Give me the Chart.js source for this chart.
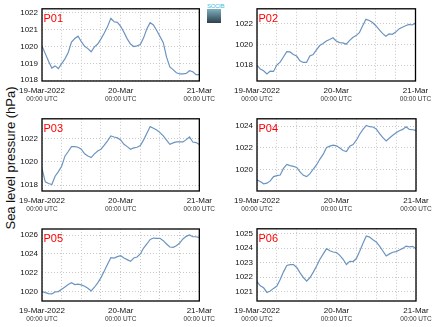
<!DOCTYPE html>
<html>
<head>
<meta charset="utf-8">
<script src="https://cdn.jsdelivr.net/npm/chart.js@4"></script>
<style>
  body { margin: 0; background: #fff; }
  #wrap { position: relative; width: 434px; height: 327px; overflow: hidden; font-family: "Liberation Sans", Arial, sans-serif; }
  canvas { position: absolute; }
  #ylabel { position: absolute; left: 10px; top: 158px; transform: translate(-50%, -50%) rotate(-90deg); white-space: nowrap; font-size: 13px; color: #111; }
  #logo { position: absolute; left: 207px; top: 3px; width: 14px; }
  #logo .t { font-size: 6px; line-height: 6px; color: #3cc0d8; letter-spacing: -0.3px; }
  #logo .b { height: 14px; background: linear-gradient(#7eb0bf, #2c3f4c); }
</style>
</head>
<body>
<div id="wrap">
  <div id="ylabel">Sea level pressure (hPa)</div>
  <div id="logo"><div class="t">SOCIB</div><div class="b"></div></div>
</div>
<script>
// hours since 19-Mar-2022 00:00 UTC
const hours = [0,1,2,3,4,5,6,7,8,9,10,11,12,13,14,15,16,17,18,19,20,21,22,23,24,
               25,26,27,28,29,30,31,32,33,34,35,36,37,38,39,40,41,42,43,44,45,46,47,48];
const xTicks = [0, 6, 12, 18, 24, 30, 36, 42, 48];
const xLabels = {0: '19-Mar-2022', 24: '20-Mar', 48: '21-Mar'};

const p01 = [1020.04,1019.58,1019.13,1018.72,1018.85,1018.69,1018.98,1019.27,1019.65,1020.27,
             1020.48,1020.62,1020.29,1020.02,1019.88,1019.69,1019.98,1020.15,1020.46,1020.81,
             1021.19,1021.68,1021.48,1021.44,1021.21,1020.85,1020.46,1020.15,1020.0,1020.04,
             1020.12,1020.52,1021.06,1021.42,1021.29,1020.96,1020.6,1020.23,1019.37,1018.79,
             1018.63,1018.44,1018.37,1018.38,1018.4,1018.56,1018.5,1018.33,1018.33];
const p02 = [1018.0,1017.6,1017.44,1017.13,1017.41,1017.38,1018.0,1018.28,1018.78,1019.3,
             1019.27,1019.02,1018.87,1018.4,1018.25,1018.25,1018.87,1019.02,1019.46,1019.89,
             1020.08,1020.33,1020.48,1020.64,1020.33,1020.17,1020.14,1020.02,1020.36,1020.67,
             1020.85,1021.13,1021.81,1022.43,1022.31,1022.12,1021.81,1021.44,1021.07,1020.79,
             1021.01,1020.98,1021.19,1021.5,1021.66,1021.81,1021.94,1021.88,1022.06];
const p03 = [1019.43,1018.29,1018.14,1018.06,1018.77,1019.17,1019.63,1020.49,1020.89,1021.31,
             1021.31,1021.26,1021.09,1020.69,1020.51,1020.37,1020.69,1020.94,1021.09,1021.43,
             1021.8,1022.23,1022.14,1022.06,1021.89,1021.51,1021.31,1021.09,1021.2,1021.26,
             1021.4,1021.89,1022.46,1023.03,1022.89,1022.74,1022.51,1022.23,1021.86,1021.51,
             1021.63,1021.71,1021.71,1021.71,1021.91,1022.14,1021.71,1021.66,1021.49];
const p04 = [1019.02,1018.87,1018.66,1018.72,1018.93,1019.33,1019.42,1019.48,1020.09,1020.46,
             1020.34,1020.27,1020.18,1019.76,1019.45,1019.33,1019.6,1020.03,1020.43,1020.95,
             1021.4,1022.02,1022.14,1022.23,1022.17,1021.98,1021.74,1021.65,1022.14,1022.29,
             1022.69,1023.24,1023.69,1024.06,1023.94,1023.91,1023.73,1023.3,1022.93,1022.63,
             1022.9,1023.15,1023.39,1023.57,1023.69,1023.94,1023.69,1023.66,1023.6];
const p05 = [1020.0,1019.89,1019.79,1019.75,1019.96,1020.0,1020.25,1020.49,1020.74,1020.95,
             1020.74,1020.78,1020.71,1020.56,1020.35,1020.07,1020.46,1020.92,1021.48,1022.19,
             1022.89,1023.6,1023.56,1023.71,1023.81,1023.56,1023.39,1023.21,1023.56,1023.67,
             1023.99,1024.62,1025.05,1025.54,1025.68,1025.65,1025.65,1025.4,1025.05,1024.73,
             1024.69,1024.87,1025.15,1025.58,1025.86,1026.0,1025.82,1025.82,1025.72];
const p06 = [1021.69,1021.41,1021.27,1020.95,1021.05,1021.23,1021.39,1021.85,1022.37,1022.81,
             1022.87,1022.87,1022.67,1022.3,1021.98,1021.73,1021.98,1022.35,1022.78,1023.24,
             1023.61,1023.97,1023.83,1023.74,1023.7,1023.51,1023.24,1022.87,1023.1,1023.08,
             1023.29,1023.79,1024.34,1024.85,1024.77,1024.59,1024.43,1024.15,1023.81,1023.47,
             1023.61,1023.72,1023.77,1023.88,1023.99,1024.15,1024.09,1024.13,1023.97];

const yTicks01 = [1018, 1019, 1020, 1021, 1022];
const yTicks02 = [1018, 1020, 1022];
const yTicks03 = [1018, 1020, 1022];
const yTicks04 = [1020, 1022, 1024];
const yTicks05 = [1020, 1022, 1024, 1026];
const yTicks06 = [1021, 1022, 1023, 1024, 1025];

const FONT = '"Liberation Sans", Arial, sans-serif';

// frame, station name and the "00:00 UTC" second line
const deco = {
  id: 'deco',
  afterDraw(chart, args, opts) {
    const ctx = chart.ctx, a = chart.chartArea, xs = chart.scales.x;
    ctx.save();
    ctx.strokeStyle = '#000';
    ctx.lineWidth = 1.3;
    ctx.strokeRect(a.left, a.top, a.right - a.left, a.bottom - a.top);
    ctx.fillStyle = '#ff0000';
    ctx.font = '11px ' + FONT;
    ctx.textBaseline = 'alphabetic';
    ctx.fillText(opts.label, a.left + 1.5, a.top + 13.3);
    ctx.fillStyle = '#333';
    ctx.font = '6.5px ' + FONT;
    ctx.textAlign = 'center';
    ctx.textBaseline = 'middle';
    Object.keys(xLabels).forEach(v => {
      ctx.fillText('00:00 UTC', xs.getPixelForValue(+v), a.bottom + 18);
    });
    ctx.restore();
  }
};

const panels = [
  {label: 'P01', data: p01, ticks: yTicks01, min: 1017.95, max: 1022.25, x: 0,   y: 0,   h: 110, padTop: 6, yW: 42, xH: 29, padR: 17},
  {label: 'P02', data: p02, ticks: yTicks02, min: 1016.45, max: 1023.45, x: 217, y: 0,   h: 110, padTop: 6, yW: 40, xH: 29, padR: 18.5},
  {label: 'P03', data: p03, ticks: yTicks03, min: 1017.5,  max: 1023.7,  x: 0,   y: 110, h: 110, padTop: 8, yW: 42, xH: 29, padR: 17},
  {label: 'P04', data: p04, ticks: yTicks04, min: 1018.0,  max: 1024.67, x: 217, y: 110, h: 110, padTop: 8, yW: 40, xH: 29, padR: 18},
  {label: 'P05', data: p05, ticks: yTicks05, min: 1019.0,  max: 1026.64, x: 0,   y: 220, h: 107, padTop: 9, yW: 42, xH: 26, padR: 17},
  {label: 'P06', data: p06, ticks: yTicks06, min: 1020.36, max: 1025.34, x: 217, y: 220, h: 107, padTop: 8, yW: 40, xH: 26, padR: 18}
];

const wrap = document.getElementById('wrap');
panels.forEach(p => {
  const cv = document.createElement('canvas');
  cv.width = 217; cv.height = p.h;
  cv.style.left = p.x + 'px'; cv.style.top = p.y + 'px';
  wrap.appendChild(cv);

  new Chart(cv, {
    type: 'line',
    data: {
      labels: hours,
      datasets: [{
        data: p.data,
        borderColor: '#6b94c0',
        borderWidth: 1.2,
        pointRadius: 0,
        fill: false,
        tension: 0
      }]
    },
    options: {
      responsive: false,
      animation: false,
      devicePixelRatio: 1,
      layout: { padding: { top: p.padTop, right: p.padR, bottom: 0, left: 0 } },
      plugins: { legend: { display: false }, tooltip: { enabled: false }, deco: { label: p.label } },
      scales: {
        x: {
          type: 'linear', min: 0, max: 48,
          afterBuildTicks: s => { s.ticks = xTicks.map(v => ({value: v})); },
          afterFit: s => { s.height = p.xH; },
          grid: { color: '#c8c8c8', lineWidth: 1, drawTicks: false },
          border: { display: false, dash: [1, 2] },
          ticks: {
            autoSkip: false, maxRotation: 0, padding: 5,
            color: '#111', font: { family: FONT, size: 8 },
            callback: v => xLabels[v] || ''
          }
        },
        y: {
          min: p.min, max: p.max,
          afterBuildTicks: s => { s.ticks = p.ticks.map(v => ({value: v})); },
          afterFit: s => { s.width = p.yW; },
          grid: { color: '#c8c8c8', lineWidth: 1, drawTicks: false },
          border: { display: false, dash: [1, 2] },
          ticks: { padding: 4, color: '#111', font: { family: FONT, size: 8 }, callback: v => String(v) }
        }
      }
    },
    plugins: [deco]
  });
});
</script>
</body>
</html>
